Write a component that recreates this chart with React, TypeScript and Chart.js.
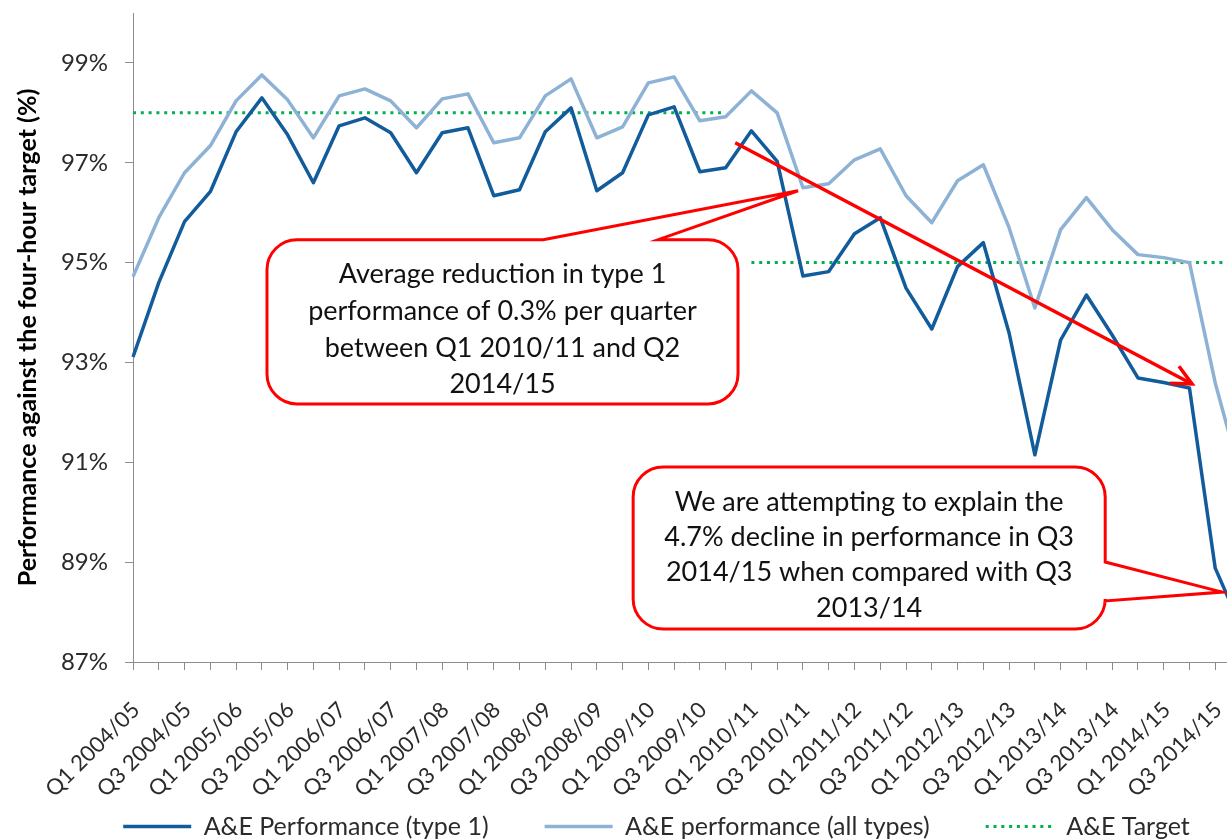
import React, { useEffect, useRef } from 'react';
import { Chart, registerables } from 'chart.js';

Chart.register(...registerables);

// ---------- data ----------
const quarters: string[] = [
  'Q1 2004/05', 'Q2 2004/05', 'Q3 2004/05', 'Q4 2004/05',
  'Q1 2005/06', 'Q2 2005/06', 'Q3 2005/06', 'Q4 2005/06',
  'Q1 2006/07', 'Q2 2006/07', 'Q3 2006/07', 'Q4 2006/07',
  'Q1 2007/08', 'Q2 2007/08', 'Q3 2007/08', 'Q4 2007/08',
  'Q1 2008/09', 'Q2 2008/09', 'Q3 2008/09', 'Q4 2008/09',
  'Q1 2009/10', 'Q2 2009/10', 'Q3 2009/10', 'Q4 2009/10',
  'Q1 2010/11', 'Q2 2010/11', 'Q3 2010/11', 'Q4 2010/11',
  'Q1 2011/12', 'Q2 2011/12', 'Q3 2011/12', 'Q4 2011/12',
  'Q1 2012/13', 'Q2 2012/13', 'Q3 2012/13', 'Q4 2012/13',
  'Q1 2013/14', 'Q2 2013/14', 'Q3 2013/14', 'Q4 2013/14',
  'Q1 2014/15', 'Q2 2014/15', 'Q3 2014/15', 'Q4 2014/15',
];

const type1Performance: number[] = [
  93.11, 94.6, 95.82, 96.42, 97.62, 98.3, 97.56, 96.6, 97.74, 97.9, 97.6, 96.8,
  97.6, 97.7, 96.34, 96.46, 97.62, 98.1, 96.44, 96.8, 97.96, 98.12, 96.82, 96.9,
  97.64, 97.03, 94.73, 94.82, 95.58, 95.9, 94.49, 93.67, 94.92, 95.4, 93.59, 91.15,
  93.45, 94.35, 93.55, 92.69, 92.6, 92.49, 88.88, 87.7,
];

const allTypesPerformance: number[] = [
  94.72, 95.9, 96.8, 97.34, 98.24, 98.76, 98.26, 97.5, 98.34, 98.48, 98.24, 97.7,
  98.28, 98.38, 97.4, 97.5, 98.34, 98.68, 97.5, 97.72, 98.6, 98.72, 97.84, 97.92,
  98.44, 98.0, 96.5, 96.58, 97.06, 97.28, 96.34, 95.8, 96.64, 96.96, 95.7, 94.09,
  95.66, 96.3, 95.66, 95.16, 95.1, 95.0, 92.59, 90.7,
];

const targetValues: number[] = [
  98, 98, 98, 98, 98, 98, 98, 98, 98, 98, 98, 98,
  98, 98, 98, 98, 98, 98, 98, 98, 98, 98, 98, 98,
  95, 95, 95, 95, 95, 95, 95, 95, 95, 95, 95, 95,
  95, 95, 95, 95, 95, 95, 95, 95,
];

const yTickValues: number[] = [87, 89, 91, 93, 95, 97, 99];

const seriesNames: string[] = ['A&E Performance (type 1)', 'A&E performance (all types)', 'A&E Target'];

const yTitle = 'Performance against the four-hour target (%)';

const callout1Text: string[] = [
  'Average reduction in type 1',
  'performance of 0.3% per quarter',
  'between Q1 2010/11 and Q2',
  '2014/15',
];
const callout2Text: string[] = [
  'We are attempting to explain the',
  '4.7% decline in performance in Q3',
  '2014/15 when compared with Q3',
  '2013/14',
];

// ---------- styling / layout ----------
const FONT = 'Lato';
const DARK = '#125C9C';
const LIGHT = '#8DB2D5';
const GREEN = '#00B050';
const RED = '#FF0000';
const AXIS = '#8C8C8C';
const TEXT = '#2B2B2B';
const W = 1241;
const H = 893;

// annotation geometry in data coordinates (category index, percent)
const callouts = [
  {
    lines: callout1Text,
    fontSize: 27,
    lineHeight: 36.7,
    box: { x1: 5.2, y1: 95.46, x2: 23.48, y2: 92.17 },
    pointer: { edge: 'top', a: 15.92, b: 20.38, tip: { x: 25.81, y: 96.44 } },
  },
  {
    lines: callout2Text,
    fontSize: 27,
    lineHeight: 35.3,
    box: { x1: 19.41, y1: 90.906, x2: 37.73, y2: 87.661 },
    pointer: { edge: 'right', a: 89.003, b: 88.222, tip: { x: 42.27, y: 88.4 } },
  },
];
const trendArrow = { from: { x: 23.37, y: 97.4 }, to: { x: 41.1, y: 92.57 } };

const annotationPlugin = {
  id: 'calloutAnnotations',
  afterDatasetsDraw(chart: any) {
    const { ctx } = chart;
    const xs = chart.scales.x;
    const ys = chart.scales.y;
    const px = (v: number) => xs.getPixelForValue(v);
    const py = (v: number) => ys.getPixelForValue(v);
    ctx.save();

    // trend arrow
    const x0 = px(trendArrow.from.x), y0 = py(trendArrow.from.y);
    const x1 = px(trendArrow.to.x), y1 = py(trendArrow.to.y);
    ctx.strokeStyle = RED;
    ctx.lineWidth = 3.5;
    ctx.lineCap = 'butt';
    ctx.lineJoin = 'miter';
    ctx.beginPath();
    ctx.moveTo(x0, y0);
    ctx.lineTo(x1, y1);
    ctx.stroke();
    const ang = Math.atan2(y1 - y0, x1 - x0);
    const hl = 22, ha = 0.45;
    ctx.beginPath();
    ctx.moveTo(x1 - hl * Math.cos(ang - ha), y1 - hl * Math.sin(ang - ha));
    ctx.lineTo(x1, y1);
    ctx.lineTo(x1 - hl * Math.cos(ang + ha), y1 - hl * Math.sin(ang + ha));
    ctx.stroke();

    // callouts
    callouts.forEach((c) => {
      const l = px(c.box.x1), r = px(c.box.x2), t = py(c.box.y1), b = py(c.box.y2);
      const rad = 30;
      const p = c.pointer;
      ctx.beginPath();
      ctx.moveTo(l + rad, t);
      if (p.edge === 'top') {
        ctx.lineTo(px(p.a), t);
        ctx.lineTo(px(p.tip.x), py(p.tip.y));
        ctx.lineTo(px(p.b), t);
      }
      ctx.lineTo(r - rad, t);
      ctx.arcTo(r, t, r, t + rad, rad);
      if (p.edge === 'right') {
        ctx.lineTo(r, py(p.a));
        ctx.lineTo(px(p.tip.x), py(p.tip.y));
        ctx.lineTo(r, py(p.b));
      }
      ctx.lineTo(r, b - rad);
      ctx.arcTo(r, b, r - rad, b, rad);
      ctx.lineTo(l + rad, b);
      ctx.arcTo(l, b, l, b - rad, rad);
      ctx.lineTo(l, t + rad);
      ctx.arcTo(l, t, l + rad, t, rad);
      ctx.closePath();
      ctx.fillStyle = '#FFFFFF';
      ctx.fill();
      ctx.lineWidth = 3;
      ctx.strokeStyle = RED;
      ctx.stroke();

      ctx.fillStyle = '#111111';
      ctx.font = `${c.fontSize}px ${FONT}`;
      ctx.textAlign = 'center';
      ctx.textBaseline = 'middle';
      const cx = (l + r) / 2;
      c.lines.forEach((line, i) => {
        ctx.fillText(line, cx, t + 35 + i * c.lineHeight);
      });
    });
    ctx.restore();
  },
};

const legendShiftPlugin = {
  id: 'legendShift',
  afterLayout(chart: any) {
    const lg = chart.legend;
    if (lg) {
      lg.left += 36;
      lg.right += 36;
      lg.top -= 44;
      lg.bottom -= 44;
    }
  },
};

export default function App() {
  const ref = useRef<HTMLCanvasElement>(null);

  useEffect(() => {
    if (!ref.current) return;
    const chart = new Chart(ref.current, {
      type: 'line',
      data: {
        labels: quarters,
        datasets: [
          {
            label: seriesNames[0],
            data: type1Performance,
            borderColor: DARK,
            backgroundColor: DARK,
            borderWidth: 3.5,
            pointRadius: 0,
            tension: 0,
            borderJoinStyle: 'round',
          },
          {
            label: seriesNames[1],
            data: allTypesPerformance,
            borderColor: LIGHT,
            backgroundColor: LIGHT,
            borderWidth: 3.5,
            pointRadius: 0,
            tension: 0,
            borderJoinStyle: 'round',
          },
          {
            label: seriesNames[2],
            data: targetValues,
            borderColor: GREEN,
            backgroundColor: GREEN,
            borderWidth: 3,
            borderDash: [3, 4.8],
            pointRadius: 0,
            tension: 0,
            segment: {
              borderColor: (c: any) => (c.p0.parsed.y !== c.p1.parsed.y ? 'rgba(0,0,0,0)' : undefined),
            },
          },
        ],
      },
      options: {
        responsive: false,
        animation: false,
        events: [],
        layout: { padding: { top: 13, left: 0, right: 0, bottom: 0 } },
        plugins: {
          tooltip: { enabled: false },
          legend: {
            position: 'bottom',
            labels: {
              usePointStyle: true,
              pointStyle: 'line',
              pointStyleWidth: 68,
              padding: 56,
              color: TEXT,
              font: { family: FONT, size: 25 },
              generateLabels: (ch: any) =>
                Chart.defaults.plugins.legend.labels.generateLabels(ch).map((item: any, i: number) => {
                  const ds: any = ch.data.datasets[i];
                  return {
                    ...item,
                    lineWidth: ds.borderWidth,
                    lineDash: ds.borderDash || [],
                    strokeStyle: ds.borderColor,
                    pointStyle: 'line',
                  };
                }),
            },
          },
        },
        scales: {
          x: {
            type: 'category',
            offset: false,
            grid: { display: true, drawOnChartArea: false, drawTicks: true, tickLength: 8, color: AXIS, lineWidth: 1 },
            border: { display: true, color: AXIS, width: 1 },
            ticks: {
              autoSkip: false,
              maxRotation: 45,
              minRotation: 45,
              padding: 27,
              labelOffset: 3,
              color: TEXT,
              font: { family: FONT, size: 22 },
              callback: (_v: any, i: number) => (i % 2 === 0 ? quarters[i] : ''),
            },
            afterFit: (s: any) => {
              s.height = 140;
              s.paddingLeft = 0;
              s.paddingRight = 0;
            },
          },
          y: {
            min: 87,
            max: 100,
            afterBuildTicks: (s: any) => {
              s.ticks = yTickValues.map((v) => ({ value: v }));
            },
            ticks: {
              padding: 17,
              color: TEXT,
              font: { family: FONT, size: 24 },
              callback: (v: any) => `${v}%`,
            },
            grid: { display: true, drawOnChartArea: false, drawTicks: true, tickLength: 8, color: AXIS, lineWidth: 1 },
            border: { display: true, color: AXIS, width: 1 },
            title: {
              display: true,
              text: yTitle,
              color: '#000000',
              font: { family: FONT, size: 25, weight: 'bold' },
              padding: { top: 13, bottom: 0 },
            },
            afterFit: (s: any) => {
              s.width = 133;
              s.paddingTop = 0;
              s.paddingBottom = 0;
            },
          },
        },
      },
      plugins: [annotationPlugin, legendShiftPlugin],
    } as any);
    return () => chart.destroy();
  }, []);

  return (
    <div
      style={{
        position: 'fixed',
        left: 0,
        top: 0,
        width: '100vw',
        height: '100vh',
        overflow: 'hidden',
        background: '#ffffff',
      }}
    >
      <canvas ref={ref} width={W} height={H} style={{ display: 'block', width: W, height: H }} />
    </div>
  );
}
